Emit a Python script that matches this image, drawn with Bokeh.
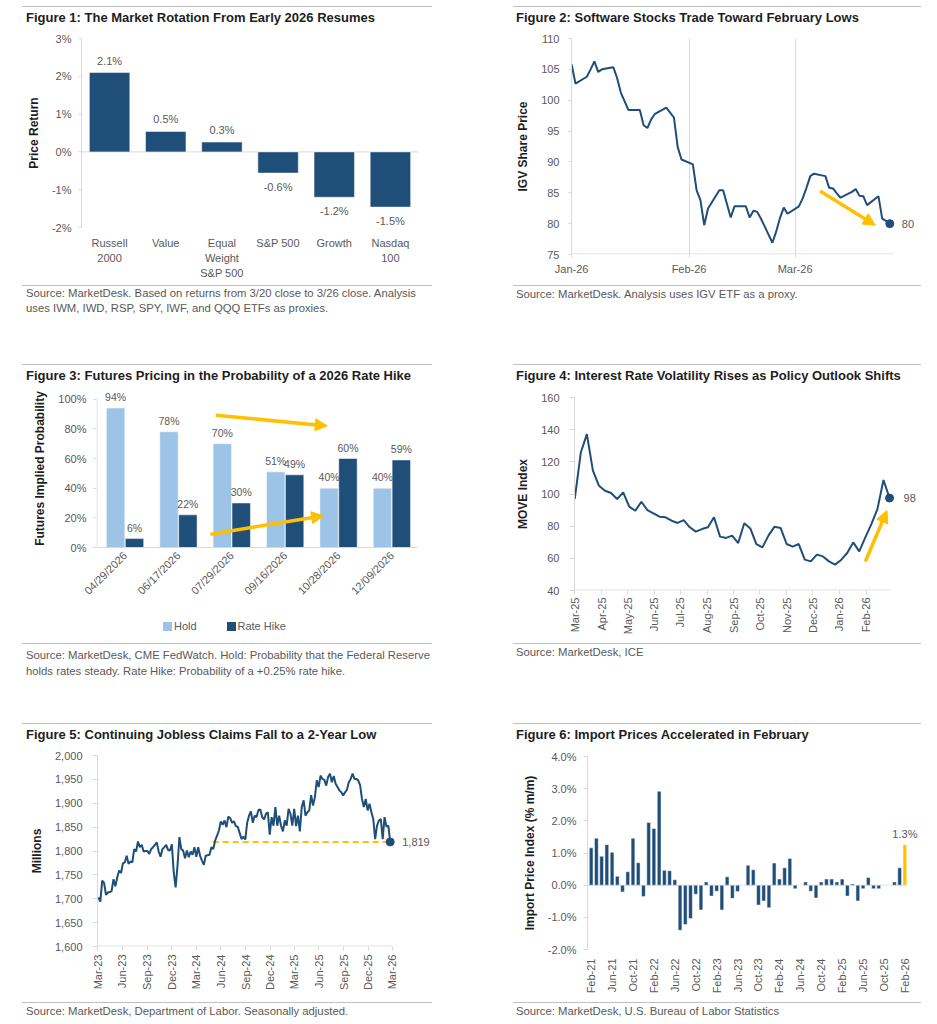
import pandas as pd
from math import pi
from bokeh.plotting import figure
from bokeh.models import (ColumnDataSource, Range1d, Label, LabelSet,
                          Arrow, NormalHead, FixedTicker, SingleIntervalTicker,
                          PrintfTickFormatter, NumeralTickFormatter, DatetimeTickFormatter,
                          Div, Spacer)
from bokeh.layouts import row, column
from bokeh.core.properties import value
from bokeh.embed import file_html
from bokeh.resources import INLINE

# ---------------------------------------------------------------- data
# Figure 1
f1_names = ["Russell 2000", "Value", "Equal Weight S&P 500", "S&P 500", "Growth", "Nasdaq 100"]
f1_ticklabels = ["Russell\n2000", "Value", "Equal\nWeight\nS&P 500", "S&P 500", "Growth", "Nasdaq\n100"]
f1_returns = [2.10, 0.54, 0.26, -0.56, -1.20, -1.46]

# Figure 2
f2_dates = ["2026-01-01", "2026-01-02", "2026-01-05", "2026-01-06", "2026-01-07", "2026-01-08",
            "2026-01-09", "2026-01-12", "2026-01-13", "2026-01-14", "2026-01-15", "2026-01-16",
            "2026-01-19", "2026-01-20", "2026-01-21", "2026-01-22", "2026-01-23", "2026-01-26",
            "2026-01-27", "2026-01-28", "2026-01-29", "2026-01-30",
            "2026-02-02", "2026-02-03", "2026-02-04", "2026-02-05", "2026-02-06", "2026-02-09",
            "2026-02-10", "2026-02-11", "2026-02-12", "2026-02-13", "2026-02-16", "2026-02-17",
            "2026-02-18", "2026-02-19", "2026-02-20", "2026-02-23", "2026-02-24", "2026-02-25",
            "2026-02-26", "2026-02-27",
            "2026-03-02", "2026-03-03", "2026-03-04", "2026-03-05", "2026-03-06", "2026-03-09",
            "2026-03-10", "2026-03-11", "2026-03-12", "2026-03-13", "2026-03-16", "2026-03-17",
            "2026-03-18", "2026-03-19", "2026-03-20", "2026-03-23", "2026-03-24", "2026-03-25",
            "2026-03-26"]
f2_price = [105.8, 102.7, 103.8, 105.0, 106.3, 104.6, 105.0, 105.35, 103.6, 101.2, 99.8, 98.4,
            98.4, 95.95, 95.5, 96.9, 97.8, 98.8, 98.0, 97.2, 92.4, 90.4,
            89.6, 85.4, 83.8, 79.75, 82.45, 85.4, 85.4, 83.2, 81.0, 82.8, 82.8, 81.0,
            82.1, 81.9, 80.8, 76.9, 78.7, 80.9, 82.6, 81.6,
            82.8, 84.1, 85.8, 87.7, 88.1, 87.7, 85.8, 85.7, 84.9, 84.2, 85.15, 85.6,
            84.5, 84.45, 83.0, 84.45, 80.8, 80.45, 80.0]
f2_months = ["2026-01-01", "2026-02-01", "2026-03-01"]
f2_arrow_start = ("2026-03-07 14:00", 85.3)
f2_arrow_end = ("2026-03-22 04:00", 79.75)

# Figure 3
f3_meetings = ["04/29/2026", "06/17/2026", "07/29/2026", "09/16/2026", "10/28/2026", "12/09/2026"]
f3_hold = [94, 78, 70, 51, 40, 40]
f3_hike = [6, 22, 30, 49, 60, 59]
f3_arrow_hold = ((1.70, 89.2), (3.79, 82.0))
f3_arrow_hike = ((1.60, 9.0), (3.72, 21.4))

# Figure 4 (weekly MOVE index)
f4_start = "2025-03-01"
f4_move = [96.9, 125.8, 137.2, 114.5, 105.1, 102.0, 100.6, 96.9, 101.0, 92.1,
           89.6, 95.2, 90.0, 88.0, 85.9, 85.5, 83.4, 82.0, 83.8, 79.3,
           76.6, 78.2, 79.3, 85.5, 73.5, 72.7, 74.1, 69.5, 81.8, 78.6,
           68.9, 66.8, 74.1, 79.7, 78.9, 68.9, 67.3, 68.9, 59.2, 58.1,
           62.3, 61.2, 58.1, 56.1, 59.0, 63.3, 69.9, 64.3, 73.0, 81.3,
           90.6, 108.7, 97.5]
f4_arrow_start = ("2026-01-31", 58.0)
f4_arrow_end = ("2026-02-25", 89.7)

# Figure 5 (weekly continuing claims, thousands)
f5_start = "2023-03-04"
f5_claims = [1703, 1694, 1738, 1733, 1708, 1713, 1714, 1716, 1741, 1726,
             1745, 1759, 1754, 1774, 1776, 1790, 1773, 1778, 1776, 1804,
             1799, 1820, 1808, 1813, 1799, 1800, 1800, 1794, 1804, 1808,
             1813, 1818, 1799, 1788, 1804, 1808, 1813, 1802, 1801, 1814,
             1755, 1724, 1769, 1829, 1804, 1801, 1785, 1801, 1787, 1799,
             1792, 1808, 1788, 1808, 1790, 1780, 1771, 1790, 1791, 1792,
             1808, 1804, 1822, 1832, 1843, 1862, 1855, 1864, 1850, 1872,
             1869, 1859, 1862, 1852, 1851, 1838, 1825, 1830, 1824, 1859,
             1874, 1883,
             1859, 1874, 1871, 1886, 1887, 1871, 1866, 1878, 1881, 1834,
             1871, 1853, 1892, 1853, 1874, 1853, 1841, 1864, 1853, 1888,
             1878, 1853, 1888, 1852, 1874, 1841, 1892, 1906, 1874, 1881,
             1885, 1917, 1895, 1913, 1948, 1934, 1958, 1951, 1949, 1937,
             1955, 1962, 1944, 1957, 1941, 1934, 1927, 1923, 1916, 1923,
             1928, 1944, 1951, 1962, 1951, 1951, 1948, 1938, 1909, 1892,
             1909, 1885, 1899, 1881, 1867, 1825, 1853, 1864, 1867, 1825,
             1871, 1851, 1853, 1819]
f5_low_since = "2024-05-02"

# Figure 6 (monthly import prices, % m/m)
f6_start = "2021-02-01"
f6_import = [1.16, 1.46, 0.90, 1.26, 1.02, 0.28, -0.21, 0.42, 1.46, 0.70,
             -0.35, 1.95, 1.76, 2.92, 0.46, 0.45, 0.17, -1.40, -1.22, -1.04,
             -0.28, -0.77, 0.10, -0.34, -0.19, -0.77, 0.26, -0.41, -0.20, 0.00,
             0.62, 0.48, -0.62, -0.49, -0.70, 0.69, 0.19, 0.54, 0.83, -0.11,
             0.00, 0.10, -0.19, -0.40, 0.10, 0.19, 0.19, 0.10, 0.19, -0.34,
             0.04, -0.49, -0.11, 0.24, -0.11, -0.11, 0.00, 0.00, 0.10, 0.54,
             1.26]

# ---------------------------------------------------------------- style
NAVY = "#1F4E79"
LIGHT = "#9DC3E6"
GOLD = "#FFC000"
AXIS = "#D9D9D9"
RULE = "#BFBFBF"
TICK = "#595959"
DARK = "#1E1E1E"
FONT = "Liberation Sans"
DAY = 86400000.0


def ms(d):
    return pd.Timestamp(d).value / 1e6


def base_fig(w, h, t, b, l, r, **kw):
    p = figure(width=w, height=h, min_border_top=t, min_border_bottom=b,
               min_border_left=l, min_border_right=r, toolbar_location=None,
               output_backend="svg", title=None, **kw)
    p.outline_line_color = None
    p.background_fill_color = "white"
    p.border_fill_color = "white"
    p.xgrid.grid_line_color = None
    p.ygrid.grid_line_color = None
    for ax in p.axis:
        ax.axis_line_color = AXIS
        ax.major_tick_line_color = AXIS
        ax.minor_tick_line_color = None
        ax.major_tick_in = 0
        ax.major_tick_out = 3
        ax.major_label_text_color = TICK
        ax.major_label_text_font = FONT
        ax.major_label_text_font_size = "11px"
        ax.axis_label_text_font = FONT
        ax.axis_label_text_font_size = "12px"
        ax.axis_label_text_font_style = "bold"
        ax.axis_label_text_color = DARK
    return p


def month_fmt():
    f = "%b-%y"
    return DatetimeTickFormatter(days=f, months=f, years=f, hours=f, hourmin=f)


def end_label(p, x, y, text, dx):
    p.add_layout(Label(x=x, y=y, text=text, x_offset=dx, text_baseline="middle",
                       text_font=FONT, text_font_size="11px", text_color=TICK))


def gold_arrow(p, start, end):
    p.add_layout(Arrow(end=NormalHead(size=12, fill_color=GOLD, line_color=GOLD, line_width=1),
                       x_start=start[0], y_start=start[1], x_end=end[0], y_end=end[1],
                       line_color=GOLD, line_width=3.5))


def axis_segment(p, x0, y0, x1, y1):
    p.segment(x0=[x0], y0=[y0], x1=[x1], y1=[y1], line_color=AXIS, line_width=1)


CSS_FONT = f"font-family:'{FONT}',Arial,sans-serif;"


def title_div(text, w, pad_l):
    html = (f'<div style="width:{w}px;height:24px;box-sizing:border-box;'
            f'border-top:1.5px solid {RULE};padding:3px 0 0 {pad_l}px;{CSS_FONT}'
            f'font-weight:bold;font-size:13px;line-height:16px;color:{DARK};'
            f'white-space:nowrap;">{text}</div>')
    return Div(text=html, width=w, height=24, margin=0)


def source_div(lines, w, h, pad_l, pad_t, lh=15):
    html = (f'<div style="width:{w}px;height:{h}px;box-sizing:border-box;'
            f'border-top:1.5px solid {RULE};padding:{pad_t}px 0 0 {pad_l}px;{CSS_FONT}'
            f'font-size:11.3px;line-height:{lh}px;color:{TICK};white-space:nowrap;">'
            + "<br>".join(lines) + '</div>')
    return Div(text=html, width=w, height=h, margin=0)


def legend_div(items, w, h):
    parts = []
    for color, text, left in items:
        parts.append(f'<span style="position:absolute;left:{left}px;top:11.5px;width:9px;'
                     f'height:9px;background:{color};"></span>')
        parts.append(f'<span style="position:absolute;left:{left + 11}px;top:9px;{CSS_FONT}'
                     f'font-size:11px;line-height:14px;color:{TICK};white-space:nowrap;">{text}</span>')
    html = f'<div style="position:relative;width:{w}px;height:{h}px;">' + "".join(parts) + '</div>'
    return Div(text=html, width=w, height=h, margin=0)


label_kw = dict(text_font=value(FONT), text_font_size="11px", text_color=TICK,
                text_align="center", text_baseline="middle")

# ---------------------------------------------------------------- Figure 1
f1_x = list(range(len(f1_names)))
p1 = base_fig(410, 255, 8, 58, 59, 14, x_range=Range1d(-0.5, len(f1_names) - 0.5),
              y_range=Range1d(-2, 3))
axis_segment(p1, -0.5, 0, len(f1_names) - 0.5, 0)
p1.vbar(x=f1_x, top=f1_returns, width=0.72, fill_color=NAVY, line_color="white",
        line_width=0.5)
pos = [i for i, v in enumerate(f1_returns) if v >= 0]
neg = [i for i, v in enumerate(f1_returns) if v < 0]
for idx, off in ((pos, 12), (neg, -14)):
    s = ColumnDataSource(dict(x=[f1_x[i] for i in idx], y=[f1_returns[i] for i in idx],
                              t=[f"{f1_returns[i]:.1f}%" for i in idx]))
    p1.add_layout(LabelSet(x="x", y="y", text="t", source=s, y_offset=off, **label_kw))
p1.xaxis.ticker = FixedTicker(ticks=f1_x)
p1.xaxis.major_label_overrides = dict(zip(f1_x, f1_ticklabels))
p1.xaxis.axis_line_color = None
p1.xaxis.major_tick_line_color = None
p1.xaxis.major_tick_out = 0
p1.xaxis.major_label_standoff = 9
p1.xaxis.major_label_text_line_height = 1.27
p1.yaxis.ticker = SingleIntervalTicker(interval=1)
p1.yaxis.formatter = PrintfTickFormatter(format="%d%%")
p1.yaxis.major_label_standoff = 6
p1.yaxis.axis_label = "Price Return"
p1.yaxis.axis_label_standoff = 8

# ---------------------------------------------------------------- Figure 2
f2_x = [ms(d) for d in f2_dates]
f2_x0 = ms("2026-01-01") - 3600000
f2_axis_end = ms("2026-03-27")
f2_x1 = f2_x0 + (f2_axis_end - f2_x0) * 350 / 323
p2 = base_fig(408, 255, 8, 31, 57, 1, x_axis_type="datetime",
              x_range=Range1d(f2_x0, f2_x1), y_range=Range1d(75, 110))
p2.xgrid.ticker = FixedTicker(ticks=[ms(d) for d in f2_months[1:]])
p2.xgrid.grid_line_color = AXIS
p2.xaxis.axis_line_color = None
axis_segment(p2, f2_x0, 75.08, f2_axis_end, 75.08)
p2.line(f2_x, f2_price, line_color=NAVY, line_width=2)
p2.scatter([f2_x[-1]], [f2_price[-1]], size=8, color=NAVY)
end_label(p2, f2_x[-1], f2_price[-1], f"{f2_price[-1]:.0f}", 12)
gold_arrow(p2, (ms(f2_arrow_start[0]), f2_arrow_start[1]), (ms(f2_arrow_end[0]), f2_arrow_end[1]))
p2.xaxis.ticker = FixedTicker(ticks=[ms(d) for d in f2_months])
p2.xaxis.formatter = month_fmt()
p2.xaxis.major_label_standoff = 5
p2.yaxis.ticker = SingleIntervalTicker(interval=5)
p2.yaxis.major_label_standoff = 8
p2.yaxis.axis_label = "IGV Share Price"
p2.yaxis.axis_label_standoff = 8

# ---------------------------------------------------------------- Figure 3
OFF = 0.177
f3_x = list(range(len(f3_meetings)))
f3_ytop = 100 * 158 / 148.3
p3 = base_fig(410, 222, 1, 63, 74, 15, x_range=Range1d(-0.535, 5.48), y_range=Range1d(0, f3_ytop))
p3.yaxis.axis_line_color = None
axis_segment(p3, -0.525, 0, -0.525, 100)
x_hold = [i - OFF for i in f3_x]
x_hike = [i + OFF for i in f3_x]
p3.vbar(x=x_hold, top=f3_hold, width=0.345, fill_color=LIGHT, line_color="white", line_width=0.5)
p3.vbar(x=x_hike, top=f3_hike, width=0.345, fill_color=NAVY, line_color="white", line_width=0.5)
for xs, vs in ((x_hold, f3_hold), (x_hike, f3_hike)):
    s = ColumnDataSource(dict(x=xs, y=vs, t=[f"{v:.0f}%" for v in vs]))
    p3.add_layout(LabelSet(x="x", y="y", text="t", source=s, y_offset=11,
                           **dict(label_kw, text_font_size="10.5px")))
gold_arrow(p3, *f3_arrow_hold)
gold_arrow(p3, *f3_arrow_hike)
p3.xaxis.ticker = FixedTicker(ticks=f3_x)
p3.xaxis.major_label_overrides = {i: m for i, m in zip(f3_x, f3_meetings)}
p3.xaxis.major_label_orientation = pi / 4
p3.xaxis.major_tick_line_color = None
p3.xaxis.major_tick_out = 0
p3.xaxis.major_label_standoff = 6
p3.yaxis.ticker = FixedTicker(ticks=[0, 20, 40, 60, 80, 100])
p3.yaxis.formatter = PrintfTickFormatter(format="%d%%")
p3.yaxis.major_label_standoff = 7
p3.yaxis.axis_label = "Futures Implied Probability"
p3.yaxis.axis_label_standoff = 8

# ---------------------------------------------------------------- Figure 4
f4_x = [ms(d) for d in pd.date_range(f4_start, periods=len(f4_move), freq="7D")]
f4_x0 = f4_x[0] - 0.3 * DAY
f4_axis_end = f4_x[-1] + 2 * DAY
f4_x1 = f4_x0 + (f4_axis_end - f4_x0) * 355 / 325
p4 = base_fig(408, 255, 9, 53, 52, 1, x_axis_type="datetime",
              x_range=Range1d(f4_x0, f4_x1), y_range=Range1d(40, 160))
p4.xaxis.axis_line_color = None
axis_segment(p4, f4_x0, 40.3, f4_axis_end, 40.3)
p4.line(f4_x, f4_move, line_color=NAVY, line_width=2)
p4.scatter([f4_x[-1]], [f4_move[-1]], size=8, color=NAVY)
end_label(p4, f4_x[-1], f4_move[-1], f"{f4_move[-1]:.0f}", 14)
gold_arrow(p4, (ms(f4_arrow_start[0]), f4_arrow_start[1]), (ms(f4_arrow_end[0]), f4_arrow_end[1]))
p4.xaxis.ticker = FixedTicker(ticks=[ms(d) for d in pd.date_range("2025-03-01", "2026-02-01", freq="MS")])
p4.xaxis.formatter = month_fmt()
p4.xaxis.major_label_orientation = pi / 2
p4.xaxis.major_tick_out = 4
p4.xaxis.major_label_standoff = 3
p4.yaxis.ticker = SingleIntervalTicker(interval=20)
p4.yaxis.major_tick_out = 5
p4.yaxis.major_label_standoff = 10
p4.yaxis.axis_label = "MOVE Index"
p4.yaxis.axis_label_standoff = 8

# ---------------------------------------------------------------- Figure 5
f5_x = [ms(d) for d in pd.date_range(f5_start, periods=len(f5_claims), freq="7D")]
f5_x0 = ms("2023-03-01") - 0.5 * DAY
f5_axis_end = ms("2026-03-01") + 0.5 * DAY
f5_x1 = f5_x0 + (f5_axis_end - f5_x0) * 334 / 295
p5 = base_fig(410, 255, 8, 56, 75, 1, x_axis_type="datetime",
              x_range=Range1d(f5_x0, f5_x1), y_range=Range1d(1600, 2000))
p5.xaxis.axis_line_color = None
axis_segment(p5, f5_x0, 1601, f5_axis_end, 1601)
p5.line([ms(f5_low_since), f5_x[-1]], [f5_claims[-1], f5_claims[-1]], line_color=GOLD,
        line_width=2, line_dash="6 4")
p5.line(f5_x, f5_claims, line_color=NAVY, line_width=2)
p5.scatter([f5_x[-1]], [f5_claims[-1]], size=8, color=NAVY)
end_label(p5, f5_x[-1], f5_claims[-1], f"{f5_claims[-1]:,.0f}", 12)
p5.xaxis.ticker = FixedTicker(ticks=[ms(d) for d in pd.date_range("2023-03-01", "2026-03-01", freq="3MS")])
p5.xaxis.formatter = month_fmt()
p5.xaxis.major_label_orientation = pi / 2
p5.xaxis.major_tick_out = 4
p5.xaxis.major_label_standoff = 4
p5.yaxis.ticker = SingleIntervalTicker(interval=50)
p5.yaxis.formatter = NumeralTickFormatter(format="0,0")
p5.yaxis.major_tick_out = 5
p5.yaxis.major_label_standoff = 10
p5.yaxis.axis_label = "Millions"
p5.yaxis.axis_label_standoff = 8

# ---------------------------------------------------------------- Figure 6
f6_x = list(range(len(f6_import)))
f6_months = pd.date_range(f6_start, periods=len(f6_import), freq="MS").strftime("%b-%y").tolist()
f6_colors = [NAVY] * (len(f6_import) - 1) + [GOLD]
f6_x0, f6_axis_end = -0.7, len(f6_import) - 0.5
f6_x1 = f6_x0 + (f6_axis_end - f6_x0) * 333 / 320
p6 = base_fig(408, 255, 9, 53, 74, 1, x_range=Range1d(f6_x0, f6_x1), y_range=Range1d(-2, 4))
axis_segment(p6, f6_x0, 0, f6_axis_end, 0)
p6.vbar(x=f6_x, top=f6_import, width=0.72, fill_color=f6_colors, line_color="white",
        line_width=0.5)
p6.add_layout(Label(x=f6_x[-1], y=f6_import[-1], text=f"{f6_import[-1]:.1f}%", y_offset=11,
                    text_align="center", text_baseline="middle", text_font=FONT,
                    text_font_size="11px", text_color=TICK))
p6.xaxis.ticker = FixedTicker(ticks=f6_x[::4])
p6.xaxis.major_label_overrides = {i: f6_months[i] for i in f6_x[::4]}
p6.xaxis.major_label_orientation = pi / 2
p6.xaxis.axis_line_color = None
p6.xaxis.major_tick_line_color = None
p6.xaxis.major_tick_out = 0
p6.xaxis.major_label_standoff = 9
p6.yaxis.ticker = SingleIntervalTicker(interval=1)
p6.yaxis.formatter = PrintfTickFormatter(format="%.1f%%")
p6.yaxis.major_tick_out = 4
p6.yaxis.major_label_standoff = 7
p6.yaxis.axis_label = "Import Price Index (% m/m)"
p6.yaxis.axis_label_standoff = 8

# ---------------------------------------------------------------- layout
ROW_H = [358, 359, 301]
LEFT_PAD, GAP = 22, 81


def panel(title, fig, lines, w, row_h, pad_l, pad_t, lh=15, extra=None):
    kids = [title_div(title, w, pad_l), fig]
    used = 24 + fig.height
    if extra is not None:
        kids.append(extra)
        used += extra.height
    kids.append(source_div(lines, w, row_h - used, pad_l, pad_t, lh))
    return column(*kids, spacing=0)


def two_up(a, b):
    return row(Spacer(width=LEFT_PAD, height=10, margin=0), a,
               Spacer(width=GAP, height=10, margin=0), b, spacing=0)


f3_legend = legend_div([(LIGHT, "Hold", 141), (NAVY, "Rate Hike", 204.5)], 410, 33)

r1 = two_up(panel("Figure 1: The Market Rotation From Early 2026 Resumes", p1,
                  ["Source: MarketDesk. Based on returns from 3/20 close to 3/26 close. Analysis",
                   "uses IWM, IWD, RSP, SPY, IWF, and QQQ ETFs as proxies."], 410, ROW_H[0], 4, 0),
            panel("Figure 2: Software Stocks Trade Toward February Lows", p2,
                  ["Source: MarketDesk. Analysis uses IGV ETF as a proxy."], 408, ROW_H[0], 3, 1))
r2 = two_up(panel("Figure 3: Futures Pricing in the Probability of a 2026 Rate Hike", p3,
                  ["Source: MarketDesk, CME FedWatch. Hold: Probability that the Federal Reserve",
                   "holds rates steady. Rate Hike: Probability of a +0.25% rate hike."], 410, ROW_H[1],
                  4, 3, 16, extra=f3_legend),
            panel("Figure 4: Interest Rate Volatility Rises as Policy Outlook Shifts", p4,
                  ["Source: MarketDesk, ICE"], 408, ROW_H[1], 3, 1))
r3 = two_up(panel("Figure 5: Continuing Jobless Claims Fall to a 2-Year Low", p5,
                  ["Source: MarketDesk, Department of Labor. Seasonally adjusted."], 410, ROW_H[2], 4, 1),
            panel("Figure 6: Import Prices Accelerated in February", p6,
                  ["Source: MarketDesk, U.S. Bureau of Labor Statistics"], 408, ROW_H[2], 3, 1))
layout = column(Spacer(width=10, height=6, margin=0), r1, r2, r3, spacing=0)

open("out.html", "w").write(file_html(layout, INLINE, title="MarketDesk charts"))
